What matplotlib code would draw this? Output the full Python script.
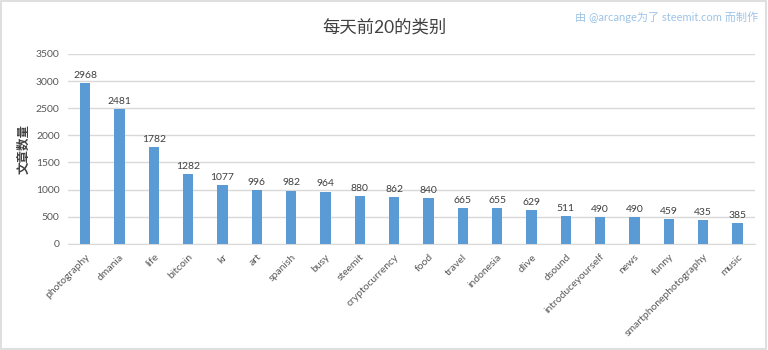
import numpy as np
import matplotlib.pyplot as plt

plt.rcParams['font.family'] = ['Lato', 'Noto Sans CJK SC', 'DejaVu Sans']

# top 20 categories per day
categories = ['photography', 'dmania', 'life', 'bitcoin', 'kr', 'art', 'spanish',
              'busy', 'steemit', 'cryptocurrency', 'food', 'travel', 'indonesia',
              'dlive', 'dsound', 'introduceyourself', 'news', 'funny',
              'smartphonephotography', 'music']
counts = [2968, 2481, 1782, 1282, 1077, 996, 982, 964, 880, 862, 840, 665,
          655, 629, 511, 490, 490, 459, 435, 385]
yticks = [0, 500, 1000, 1500, 2000, 2500, 3000, 3500]

bar_color = '#5B9BD5'
text_color = '#595959'

fig = plt.figure(figsize=(7.68, 3.5), dpi=100)
ax = fig.add_axes([0.0885, 0.303, 0.894, 0.543])

x = np.arange(len(categories))
ax.bar(x, counts, width=0.3, color=bar_color, zorder=3)

for xi, v in zip(x, counts):
    ax.text(xi, v + 60, str(v), ha='center', va='bottom', fontsize=7.5,
            color='#404040')

ax.set_xlim(-0.5, len(categories) - 0.5)
ax.set_ylim(0, 3500)
ax.set_yticks(yticks)
ax.set_yticklabels([str(t) for t in yticks], fontsize=7.5, color=text_color)
ax.set_xticks(x)
ax.set_xticklabels(categories, rotation=45, ha='right', rotation_mode='anchor',
                   fontsize=7.5, color=text_color)
ax.tick_params(length=0, pad=6)
ax.grid(axis='y', color='#D9D9D9', linewidth=1, zorder=0)
for s in ['top', 'right', 'left']:
    ax.spines[s].set_visible(False)
ax.spines['bottom'].set_color('#D9D9D9')

ax.set_ylabel('文章数量', fontsize=9, color='#404040', fontweight='bold')
ax.yaxis.set_label_coords(-0.056, 0.5)

fig.text(0.5, 0.922, '每天前20的类别', ha='center', va='center', fontsize=12.5,
         color='#404040')
fig.text(0.987, 0.952, '由 @arcange为了 steemit.com 而制作', ha='right', va='center',
         fontsize=8, color='#9DC3E6')

# thin frame around the whole figure
fig.patches.append(plt.Rectangle((0.001, 0.002), 0.997, 0.995, transform=fig.transFigure,
                                 fill=False, edgecolor='#D9D9D9', linewidth=1.2))

fig.savefig('out.png', dpi=100)
